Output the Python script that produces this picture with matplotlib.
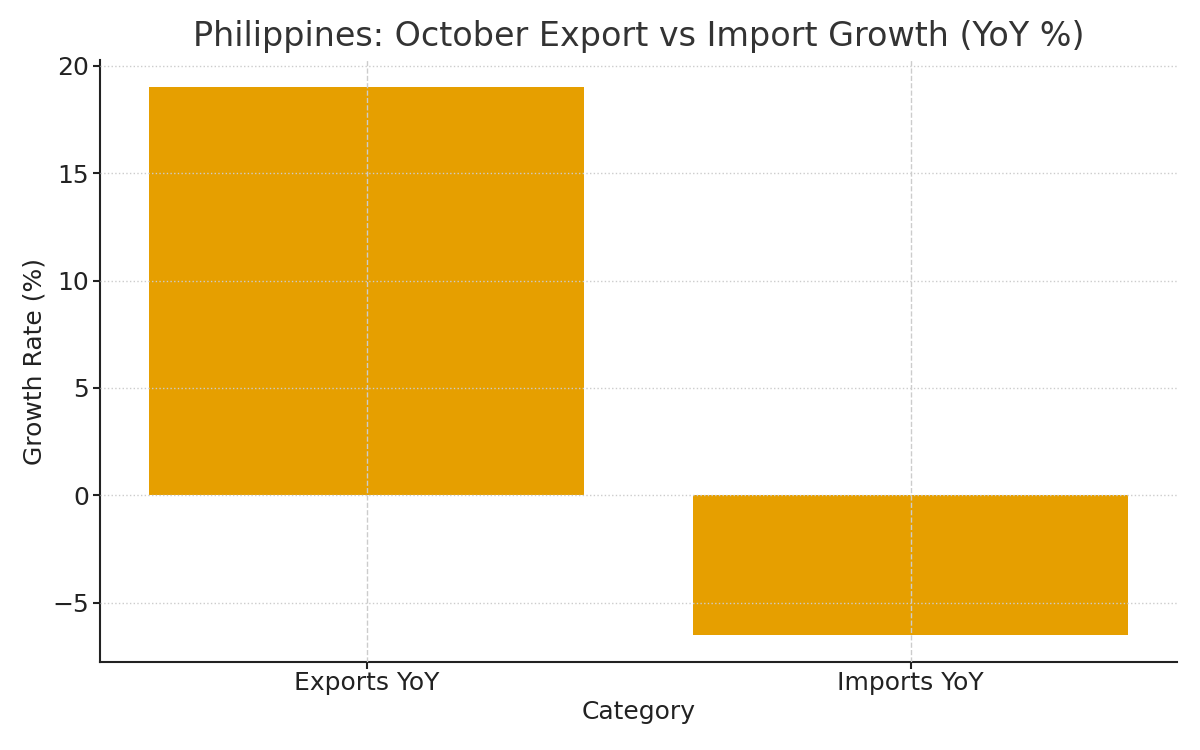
import matplotlib.pyplot as plt

categories = ['Exports YoY', 'Imports YoY']
growth = [19.0, -6.5]

fig, ax = plt.subplots(figsize=(12, 7.5), dpi=100)
fig.subplots_adjust(left=0.0833, right=0.981, top=0.92, bottom=0.117)
ax.bar(categories, growth, color='#E69F00', width=0.8)

ax.set_title('Philippines: October Export vs Import Growth (YoY %)', fontsize=24, color='#333333', pad=10)
ax.set_xlabel('Category', fontsize=18, color='#222222', labelpad=4)
ax.set_ylabel('Growth Rate (%)', fontsize=18, color='#222222')
ax.tick_params(labelsize=18, colors='#222222', length=5, width=1.5, pad=3)
ax.tick_params(axis='x', pad=1)

ax.yaxis.grid(True, linestyle=':', color='#cccccc', linewidth=1)
ax.xaxis.grid(True, linestyle='--', color='#cccccc', linewidth=1)
ax.set_axisbelow(False)

for s in ['top', 'right']:
    ax.spines[s].set_visible(False)
for s in ['left', 'bottom']:
    ax.spines[s].set_linewidth(1.5)
    ax.spines[s].set_color('#222222')

plt.savefig('out.png')
